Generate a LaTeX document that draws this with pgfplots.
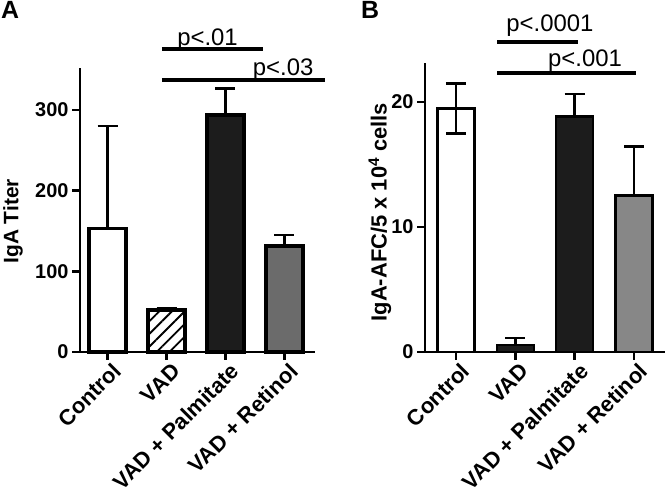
\documentclass[border=0pt]{standalone}
\usepackage{fontspec}
\setmainfont{Liberation Sans}
\usepackage{pgfplots}
\pgfplotsset{compat=1.18}
\usetikzlibrary{patterns.meta}
\definecolor{palm}{HTML}{1C1C1C}
\definecolor{retA}{HTML}{6B6B6B}
\definecolor{retB}{HTML}{878787}
\pgfplotsset{
  prism/.style={
    scale only axis, ybar, clip=false,
    axis lines=left, axis line style={-, line width=2.5bp},
    tick align=outside, major tick length=8bp,
    every tick/.style={black, line width=2.5bp},
    xtick={0,1,2,3}, xticklabels={Control,VAD,VAD + Palmitate,VAD + Retinol},
    x tick label style={rotate=45, anchor=east, xshift=5bp, yshift=-12bp, font=\fontsize{22}{22}\selectfont\bfseries},
    y tick label style={font=\fontsize{20}{20}\selectfont\bfseries},
    /pgf/number format/assume math mode=true,
    ymin=0,
    ylabel style={anchor=center, font=\fontsize{21}{21}\selectfont\bfseries},
  },
  bars/.style={bar width=37bp, bar shift=0pt, draw=black, line width=#1,
    error bars/y explicit, error bars/error bar style={line width=2.5bp, black},
    error bars/error mark options={rotate=90, line width=2.5bp, mark size=10bp, black}},
}
\begin{document}
\begin{tikzpicture}[x=1bp,y=1bp]
\useasboundingbox (0,0) rectangle (666,496);
\node[anchor=north west, inner sep=0pt, font=\fontsize{25}{25}\selectfont\bfseries] at (1,495) {A};
\node[anchor=north west, inner sep=0pt, font=\fontsize{25}{25}\selectfont\bfseries] at (361,495) {B};
% Panel A
\begin{axis}[prism, at={(80bp,144bp)}, anchor=south west,
  width=235bp, height=284bp, xmin=-0.47, xmax=3.52, ymax=352,
  ytick={0,100,200,300},
  ylabel={IgA Titer}, ylabel style={at={(axis description cs:-0.285,0.46)}}]
\addplot[bars=3.5bp, fill=white, error bars/y dir=plus] coordinates {(0,153.3) +- (0,126.8)};
\addplot[bars=3.5bp, pattern={Lines[angle=45,distance=9bp,line width=1.8bp]}, error bars/y dir=plus] coordinates {(1,52) +- (0,2)};
\addplot[bars=3.5bp, fill=palm, error bars/y dir=plus] coordinates {(2,293.7) +- (0,33)};
\addplot[bars=3.5bp, fill=retA, error bars/y dir=plus] coordinates {(3,131.4) +- (0,13.3)};
\draw[line width=3.5bp] (axis cs:0.92,375.5) -- (axis cs:2.64,375.5);
\draw[line width=3.5bp] (axis cs:0.92,337) -- (axis cs:3.69,337);
\node[anchor=base, inner sep=0pt, font=\fontsize{24}{24}\selectfont] at (axis cs:1.695,380.4) {p<.01};
\node[anchor=base, inner sep=0pt, font=\fontsize{24}{24}\selectfont] at (axis cs:2.98,343) {p<.03};
\end{axis}
% Panel B
\begin{axis}[prism, at={(425bp,144bp)}, anchor=south west,
  width=240bp, height=289bp, xmin=-0.52, xmax=3.52, ymax=23.1,
  ytick={0,10,20},
  ylabel={IgA-AFC/5 x 10\textsuperscript{4} cells}, ylabel style={at={(axis description cs:-0.1875,0.484)}, font=\fontsize{22}{22}\selectfont\bfseries}]
\addplot[bars=2.5bp, fill=white, error bars/y dir=both] coordinates {(0,19.48) +- (0,2.0)};
\addplot[bars=2.5bp, fill=palm, error bars/y dir=plus] coordinates {(1,0.56) +- (0,0.54)};
\addplot[bars=2.5bp, fill=palm, error bars/y dir=plus] coordinates {(2,18.81) +- (0,1.81)};
\addplot[bars=2.5bp, fill=retB, error bars/y dir=plus] coordinates {(3,12.49) +- (0,3.92)};
\draw[line width=3.5bp] (axis cs:0.692,24.76) -- (axis cs:2.056,24.76);
\draw[line width=3.5bp] (axis cs:0.692,22.28) -- (axis cs:3.04,22.28);
\node[anchor=base, inner sep=0pt, font=\fontsize{24}{24}\selectfont] at (axis cs:1.584,25.6) {p<.0001};
\node[anchor=base, inner sep=0pt, font=\fontsize{24}{24}\selectfont] at (axis cs:2.174,22.8) {p<.001};
\end{axis}
\end{tikzpicture}
\end{document}
